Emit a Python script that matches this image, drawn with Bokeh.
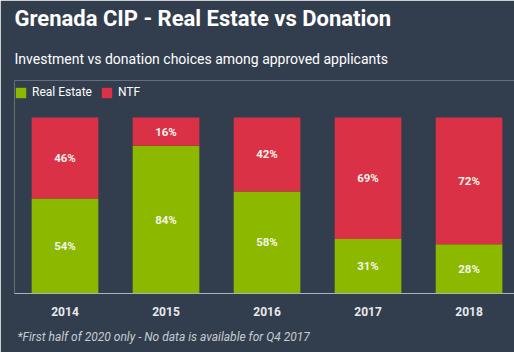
from bokeh.plotting import figure
from bokeh.models import ColumnDataSource, Range1d, LabelSet, Legend, LegendItem, Title
from bokeh.embed import file_html
from bokeh.resources import INLINE
from bokeh.core.properties import value

years = ["2014", "2015", "2016", "2017", "2018"]
real_estate = [54, 84, 58, 31, 28]
ntf = [46, 16, 42, 69, 72]

BG = "#323e4e"
GREEN = "#8cb800"
RED = "#da3146"

xs = list(range(len(years)))
src = ColumnDataSource(dict(
    x=xs, re=real_estate, ntf=ntf,
    re_mid=[r / 2 for r in real_estate],
    ntf_mid=[r + n / 2 for r, n in zip(real_estate, ntf)],
    re_top=[r + n for r, n in zip(real_estate, ntf)],
    re_lab=[f"{v}%" for v in real_estate],
    ntf_lab=[f"{v}%" for v in ntf],
))

p = figure(width=514, height=352, output_backend="svg", toolbar_location=None,
           title="Grenada CIP - Real Estate vs Donation",
           x_range=Range1d(-0.5, 4.45), y_range=Range1d(0, 121),
           min_border_left=14, min_border_right=0, min_border_top=80, min_border_bottom=59)
p.background_fill_color = BG
p.border_fill_color = BG
p.outline_line_color = None
p.grid.visible = False
p.yaxis.visible = False

p.title.text_font = "Roboto"
p.title.text_font_size = "22px"
p.title.text_font_style = "bold"
p.title.text_color = "white"
p.title.standoff = 7

r1 = p.vbar(x="x", bottom=0, top="re", width=0.66, source=src, fill_color=GREEN, line_color=None)
r2 = p.vbar(x="x", bottom="re", top="re_top", width=0.66, source=src, fill_color=RED, line_color=None)

for col, lab in (("re_mid", "re_lab"), ("ntf_mid", "ntf_lab")):
    p.add_layout(LabelSet(x="x", y=col, text=lab, source=src, text_align="center",
                          text_baseline="middle", text_color="#f4f4ea", text_font_size="11.5px",
                          text_font_style="bold", text_font=value("Roboto")))

ax = p.xaxis[0]
ax.ticker = xs
ax.major_label_overrides = {i: y for i, y in enumerate(years)}
ax.axis_line_color = "#aab2bc"
ax.axis_line_width = 1
ax.major_tick_line_color = None
ax.minor_tick_line_color = None
ax.major_label_text_color = "#e8eaec"
ax.major_label_text_font = "Roboto"
ax.major_label_text_font_style = "bold"
ax.major_label_text_font_size = "12px"
ax.major_label_standoff = 7

legend = Legend(items=[LegendItem(label="Real Estate", renderers=[r1]),
                       LegendItem(label="NTF", renderers=[r2])],
                orientation="horizontal", location=(0, 194),
                background_fill_alpha=0, border_line_color=None,
                label_text_color="white", label_text_font="Roboto", label_text_font_size="12px",
                glyph_width=13, glyph_height=13, label_standoff=5, spacing=8,
                padding=0, margin=0, label_height=13)
p.add_layout(legend)

p.add_layout(Title(text="Investment vs donation choices among approved applicants",
                   text_font="Roboto", text_font_size="14px", text_font_style="normal",
                   text_color="white", standoff=28), "above")

p.add_layout(Title(text="*First half of 2020 only - No data is available for Q4 2017",
                   text_font="Roboto", text_font_size="12px", text_font_style="italic",
                   text_color="#c8ccd2", standoff=18, offset=3), "below")

open("out.html", "w").write(file_html(p, INLINE))
